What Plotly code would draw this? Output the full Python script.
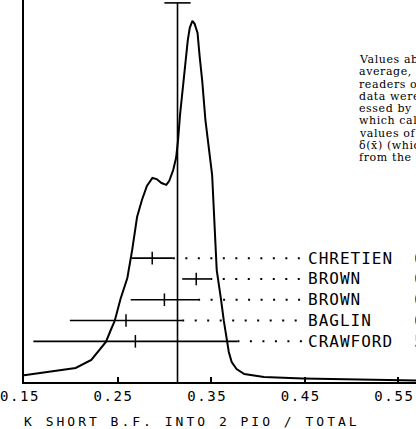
import plotly.graph_objects as go

# ---- ideogram curve (x value, relative height, peak = 100)
CURVE_X = [0.1500, 0.1771, 0.2052, 0.2219, 0.2323, 0.2375, 0.2427, 0.2469, 0.2531,
           0.2604, 0.2656, 0.2708, 0.2760, 0.2813, 0.2872, 0.2917, 0.2969, 0.3021,
           0.3052, 0.3094, 0.3125, 0.3146, 0.3167, 0.3208, 0.3250, 0.3271, 0.3299,
           0.3323, 0.3354, 0.3375, 0.3403, 0.3438, 0.3510, 0.3559, 0.3573, 0.3604,
           0.3635, 0.3667, 0.3688, 0.3719, 0.3771, 0.3854, 0.4063, 0.4479, 0.5000,
           0.5688]
CURVE_Y = [1.9, 2.8, 3.9, 6.1, 9.4, 11.1, 14.4, 16.9, 23.0,
           28.8, 36.6, 45.7, 50.4, 54.3, 56.5, 56.2, 55.1, 54.6,
           55.7, 58.7, 62.1, 67.0, 74.0, 85.0, 94.7, 98.1, 100.0,
           99.2, 96.7, 90.6, 83.7, 72.6, 57.3, 31.0, 28.8, 23.0,
           16.9, 11.1, 8.3, 5.5, 3.6, 2.2, 1.4, 1.0, 0.7,
           0.4]

# ---- measurements (top to bottom)
EXPERIMENTS = ["CHRETIEN", "BROWN", "BROWN", "BAGLIN", "CRAWFORD"]
YEARS = ["62", "63", "61", "61", "59"]
VALUES = [0.287, 0.334, 0.300, 0.259, 0.269]
ERRORS = [0.022, 0.015, 0.036, 0.060, 0.109]

# ---- weighted average
AVG = 0.314
AVG_ERR = 0.014

# ---- axis
TICK_VALS = [0.15, 0.25, 0.35, 0.45, 0.55]
TICK_LABELS = ["0.15", "0.25", "0.35", "0.45", "0.55"]
X_TITLE = "K SHORT B.F. INTO 2 PIO / TOTAL"

NOTE_LINES = ["Values ab", "average,", "readers o", "data were", "essed by",
              "which cal", "values of", "\u03b4(x\u0304) (whic", "from the"]

MONO = "DejaVu Sans Mono"
SERIF = "DejaVu Serif"

def spaced(t, ls):
    return '<span style="letter-spacing:%spx">%s</span>' % (ls, t)

# layout helpers
ROW_TOP = 34.3
ROW_STEP = 5.76
row_y = [ROW_TOP - i * ROW_STEP for i in range(len(VALUES))]
LEADER_END = 0.449
LABEL_X = 0.4515
AVG_TOP = 105.0

fig = go.Figure()

fig.add_trace(go.Scatter(x=CURVE_X, y=CURVE_Y, mode="lines",
                         line=dict(color="black", width=2), hoverinfo="skip"))

# average line and its error cap
fig.add_trace(go.Scatter(x=[AVG, AVG], y=[0, AVG_TOP], mode="lines",
                         line=dict(color="black", width=1.6), hoverinfo="skip"))
fig.add_trace(go.Scatter(x=[AVG - AVG_ERR, AVG + AVG_ERR], y=[AVG_TOP, AVG_TOP],
                         mode="lines", line=dict(color="black", width=1.6),
                         hoverinfo="skip"))

# leaders
for v, e, y in zip(VALUES, ERRORS, row_y):
    fig.add_shape(type="line", xref="x", yref="y", x0=v + e, x1=LEADER_END,
                  y0=y, y1=y, line=dict(color="black", width=2, dash="2px,10.5px"))

# measurements
fig.add_trace(go.Scatter(
    x=VALUES, y=row_y, mode="markers",
    marker=dict(symbol="line-ns-open", size=9, color="black",
                line=dict(color="black", width=1.5)),
    error_x=dict(type="data", array=ERRORS, width=0, thickness=1.6, color="black"),
    hoverinfo="skip"))

for name, yr, y in zip(EXPERIMENTS, YEARS, row_y):
    pad = "\u00a0" * (10 - len(name))
    fig.add_annotation(x=LABEL_X, y=y, xref="x", yref="y", xanchor="left",
                       yanchor="middle", showarrow=False,
                       text=spaced(name + pad + yr, 1.0),
                       font=dict(family=MONO, size=16, color="black"))

# note block (cut by the right edge)
for i, line in enumerate(NOTE_LINES):
    py = 59.5 + i * 12.25
    fig.add_annotation(x=(356 - 14) / 402, y=(382 - py) / 382, xref="paper",
                       yref="paper", xanchor="left", yanchor="middle",
                       showarrow=False, text=spaced(line, 0.6),
                       font=dict(family=SERIF, size=11, color="black"))

# x title
fig.add_annotation(x=(12 - 14) / 402, y=(382 - 421) / 382, xref="paper",
                   yref="paper", xanchor="left", yanchor="middle",
                   showarrow=False, text=spaced(X_TITLE, 3),
                   font=dict(family=MONO, size=13, color="black"))

fig.update_layout(
    width=416, height=429,
    margin=dict(l=14, r=0, t=0, b=47, pad=0),
    plot_bgcolor="white", paper_bgcolor="white",
    showlegend=False,
    xaxis=dict(range=[0.15, 0.5688], showgrid=False, zeroline=False,
               showline=True, linecolor="black", linewidth=2,
               tickmode="array", tickvals=TICK_VALS,
               ticktext=[spaced(t, 1.6) for t in TICK_LABELS],
               ticks="inside", ticklen=5, tickwidth=1.5, tickcolor="black",
               ticklabelshift=-4, ticklabeloverflow="allow",
               tickfont=dict(family=MONO, size=14, color="black")),
    yaxis=dict(range=[0, 105.8], showgrid=False, zeroline=False,
               showline=True, linecolor="black", linewidth=2,
               showticklabels=False, ticks=""),
)

fig.write_html("out.html", config={"displayModeBar": False},
               post_script="document.body.style.margin='0';"
                           "document.body.style.overflow='hidden';")
